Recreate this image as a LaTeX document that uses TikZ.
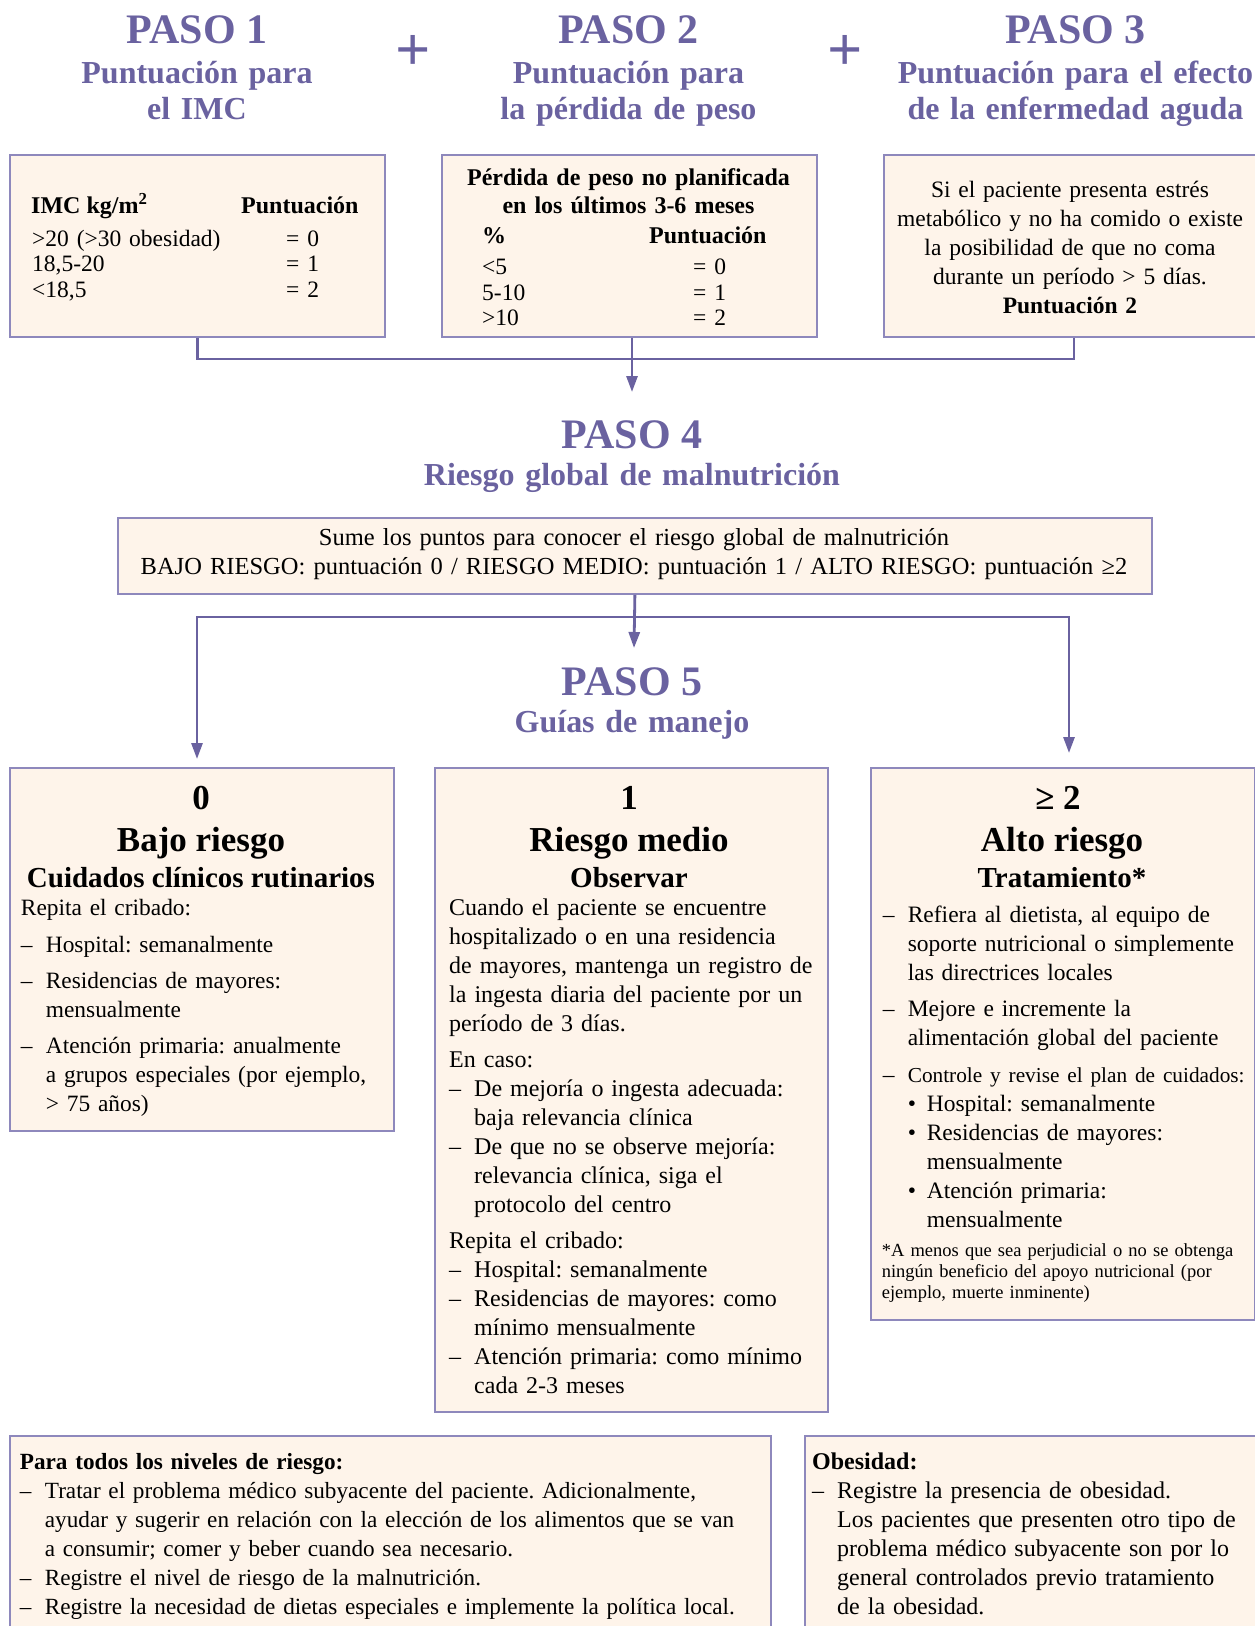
\documentclass[tikz,border=0pt]{standalone}
\usepackage{fontspec}
\setmainfont{Liberation Serif}
\usetikzlibrary{arrows.meta}
\definecolor{pur}{HTML}{6A62A0}
\definecolor{bord}{HTML}{8E88BC}
\definecolor{peach}{HTML}{FEF4EA}
\newcommand\itdash{\makebox[25pt][l]{–}}
\newcommand\itind{\hspace*{25pt}}
\newcommand\itbul{\makebox[19pt][l]{•}}
\newcommand\fs[2]{\fontsize{#1}{#2}\selectfont}
\frenchspacing
\begin{document}
\begin{tikzpicture}[x=1pt,y=-1pt,
  box/.style={draw=bord, fill=peach, line width=1.8pt, inner sep=0pt, anchor=north west},
  conn/.style={draw=pur, line width=2.8pt},
  arr/.style={conn, -{Triangle[length=16pt,width=11pt]}},
  paso/.style={text=pur, font=\fs{42}{42}\bfseries, inner sep=0pt, anchor=base},
  sub/.style={text=pur, font=\fs{32}{36}\bfseries, inner sep=0pt, anchor=base, align=center, text width=520pt},
  plus/.style={text=pur, font=\fs{62}{62}\bfseries, inner sep=0pt},
  txt/.style={inner sep=0pt, anchor=base west, align=left},
  ctxt/.style={inner sep=0pt, anchor=base, align=center},
  body/.style={txt, font=\fs{24}{29}, text width=400pt},
]
\path[use as bounding box, fill=white] (0,0) rectangle (1255,1626);

% headings
\node[paso] (p1) at (197,43.6) {PASO 1};
\node[paso] (p2) at (628.5,43.6) {PASO 2};
\node[paso] (p3) at (1075.5,43.6) {PASO 3};
\node[sub] (s1) at (197,83) {Puntuación para\\el IMC};
\node[sub] (s2) at (628.5,83) {Puntuación para\\la pérdida de peso};
\node[sub] (s3) at (1075.5,83) {Puntuación para el efecto\\de la enfermedad aguda};
\node[plus] (pl1) at (413,53) {+};
\node[plus] (pl2) at (845.5,53) {+};

% step boxes
\node[box, minimum width=375pt, minimum height=182pt] (b1) at (9,154) {};
\node[box, minimum width=375pt, minimum height=182pt] (b2) at (441,154) {};
\node[box, minimum width=380pt, minimum height=182pt] (b3) at (883,154) {};

\node[txt, font=\fs{24}{25}\bfseries] (b1h) at (31,213.5) {IMC kg/m\textsuperscript{2}};
\node[txt, font=\fs{24}{25}\bfseries] (b1p) at (241,213.5) {Puntuación};
\node[txt, font=\fs{23.5}{25.5}, text width=240pt] (b1l) at (32,246) {>20 (>30 obesidad)\\18,5-20\\<18,5};
\node[txt, font=\fs{23.5}{25.5}, text width=60pt] (b1r) at (286,246) {= 0\\= 1\\= 2};

\node[ctxt, font=\fs{24}{28}\bfseries, text width=370pt] (b2h) at (628.5,185) {Pérdida de peso no planificada\\en los últimos 3-6 meses};
\node[txt, font=\fs{24}{25}\bfseries] (b2a) at (482,243) {\%};
\node[txt, font=\fs{24}{25}\bfseries] (b2b) at (649,243) {Puntuación};
\node[txt, font=\fs{23.5}{25.5}, text width=150pt] (b2l) at (482,274.5) {<5\\5-10\\>10};
\node[txt, font=\fs{23.5}{25.5}, text width=60pt] (b2r) at (693,274.5) {= 0\\= 1\\= 2};

\node[ctxt, font=\fs{23.5}{29}, text width=370pt] (b3t) at (1070,197) {Si el paciente presenta estrés\\metabólico y no ha comido o existe\\la posibilidad de que no coma\\durante un período > 5 días.\\\textbf{Puntuación 2}};

% top connectors
\coordinate (hy) at (0,359);
\coordinate (a1) at (632,392);
\draw[conn] (b1.south) -- (b1.south |- hy) -- (b3.south |- hy) -- (b3.south);
\draw[arr] (a1 |- b2.south) -- (a1);

% step 4
\node[paso] (p4) at (632,448) {PASO 4};
\node[sub] (s4) at (632,485) {Riesgo global de malnutrición};
\node[box, minimum width=1034pt, minimum height=76pt] (b4) at (117,517) {};
\node[ctxt, font=\fs{24.5}{29}, text width=1030pt] (b4t) at (634,545.5) {Sume los puntos para conocer el riesgo global de malnutrición\\BAJO RIESGO: puntuación 0 / RIESGO MEDIO: puntuación 1 / ALTO RIESGO: puntuación ≥2};

% lower connectors
\coordinate (hm) at (634,617);
\coordinate (tm) at (634,648);
\coordinate (tl) at (197,759);
\coordinate (tr) at (1069,753);
\draw[arr] (b4.south) -- (tm);
\draw[arr] (hm) -| (tl);
\draw[arr] (hm) -| (tr);

% step 5
\node[paso] (p5) at (632,695) {PASO 5};
\node[sub] (s5) at (632,732) {Guías de manejo};

\node[box, minimum width=384pt, minimum height=363pt] (r0) at (9,767) {};
\node[box, minimum width=393pt, minimum height=644pt] (r1) at (434,767) {};
\node[box, minimum width=384pt, minimum height=552pt] (r2) at (870,767) {};

\node[ctxt, font=\fs{35}{35}\bfseries] (r0n) at (201,809) {0};
\node[ctxt, font=\fs{35}{35}\bfseries] (r0a) at (201,851) {Bajo riesgo};
\node[ctxt, font=\fs{29}{29}\bfseries] (r0b) at (201,887) {Cuidados clínicos rutinarios};
\node[body, font=\fs{23.4}{29}] (r0t) at (20.7,915) {Repita el cribado:\\[8pt]
\itdash Hospital: semanalmente\\[7pt]
\itdash Residencias de mayores:\\
\itind mensualmente\\[7pt]
\itdash Atención primaria: anualmente\\
\itind a grupos especiales (por ejemplo,\\
\itind > 75 años)};

\node[ctxt, font=\fs{35}{35}\bfseries] (r1n) at (629,809) {1};
\node[ctxt, font=\fs{35}{35}\bfseries] (r1a) at (629,851) {Riesgo medio};
\node[ctxt, font=\fs{29}{29}\bfseries] (r1b) at (629,887) {Observar};
\node[body] (r1t) at (449,915) {Cuando el paciente se encuentre\\
hospitalizado o en una residencia\\
de mayores, mantenga un registro de\\
la ingesta diaria del paciente por un\\
período de 3 días.\\[7pt]
En caso:\\
\itdash De mejoría o ingesta adecuada:\\
\itind baja relevancia clínica\\
\itdash De que no se observe mejoría:\\
\itind relevancia clínica, siga el\\
\itind protocolo del centro\\[7pt]
Repita el cribado:\\
\itdash Hospital: semanalmente\\
\itdash Residencias de mayores: como\\
\itind mínimo mensualmente\\
\itdash Atención primaria: como mínimo\\
\itind cada 2-3 meses};

\node[ctxt, font=\fs{35}{35}\bfseries] (r2n) at (1058,809) {≥ 2};
\node[ctxt, font=\fs{35}{35}\bfseries] (r2a) at (1062,851) {Alto riesgo};
\node[ctxt, font=\fs{29}{29}\bfseries] (r2b) at (1062,887) {Tratamiento*};
\node[body, font=\fs{23.5}{29}] (r2t) at (882.6,922) {\itdash Refiera al dietista, al equipo de\\
\itind soporte nutricional o simplemente\\
\itind las directrices locales\\[7.5pt]
\itdash Mejore e incremente la\\
\itind alimentación global del paciente\\[7.5pt]
\itdash {\fs{21.3}{29}Controle y revise el plan de cuidados:}\\
\itind\itbul Hospital: semanalmente\\
\itind\itbul Residencias de mayores:\\
\itind\hspace*{19pt}mensualmente\\
\itind\itbul Atención primaria:\\
\itind\hspace*{19pt}mensualmente};
\node[txt, font=\fs{18.5}{21}, text width=370pt] (r2f) at (881.6,1256) {*A menos que sea perjudicial o no se obtenga\\
ningún beneficio del apoyo nutricional (por\\
ejemplo, muerte inminente)};

% bottom boxes
\node[box, minimum width=761pt, minimum height=300pt] (q0) at (9,1435) {};
\node[box, minimum width=460pt, minimum height=300pt] (q1) at (804,1435) {};
\node[body, font=\fs{23.2}{29}, text width=760pt] (q0t) at (19.7,1469) {\textbf{Para todos los niveles de riesgo:}\\
\itdash Tratar el problema médico subyacente del paciente. Adicionalmente,\\
\itind ayudar y sugerir en relación con la elección de los alimentos que se van\\
\itind a consumir; comer y beber cuando sea necesario.\\
\itdash Registre el nivel de riesgo de la malnutrición.\\
\itdash Registre la necesidad de dietas especiales e implemente la política local.};
\node[body, text width=440pt] (q1t) at (812,1469) {\textbf{Obesidad:}\\
\itdash Registre la presencia de obesidad.\\
\itind Los pacientes que presenten otro tipo de\\
\itind problema médico subyacente son por lo\\
\itind general controlados previo tratamiento\\
\itind de la obesidad.};
\end{tikzpicture}
\end{document}
